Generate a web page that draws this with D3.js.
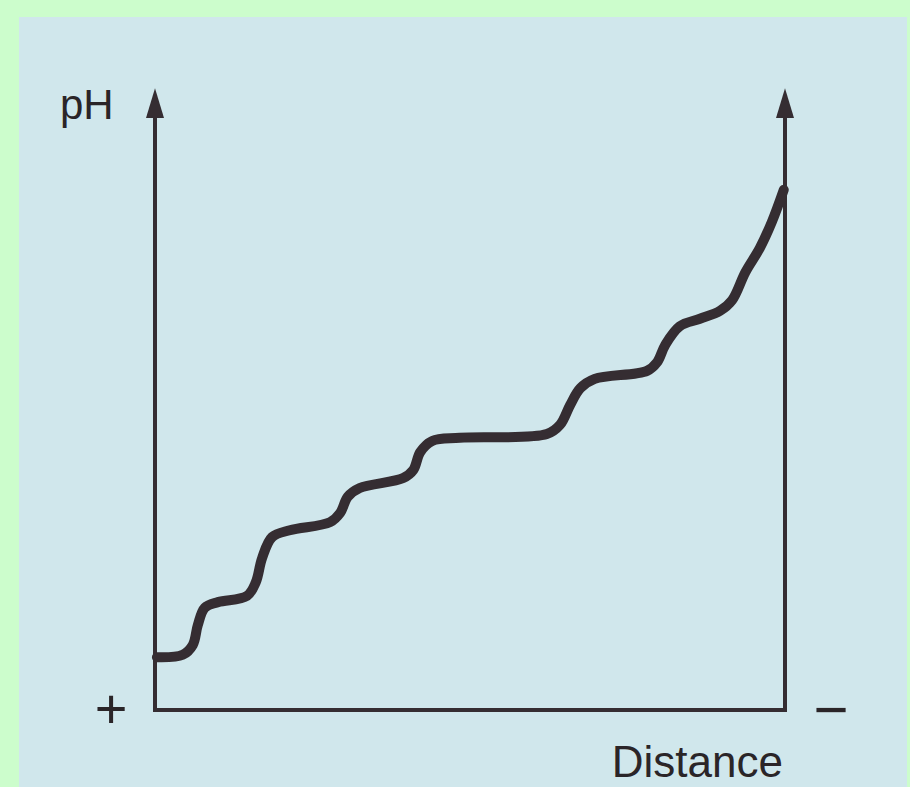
<!DOCTYPE html>
<html><head><meta charset="utf-8">
<script src="https://cdn.jsdelivr.net/npm/d3@7"></script>
<style>html,body{margin:0;padding:0;background:#ccfdcc;}svg{display:block;}</style>
</head><body>
<script>
// Data (arbitrary units: distance 0-100, pH 0-10)
const distance = [0.3,4.4,6.0,6.8,7.9,10.0,14.6,16.0,17.0,18.6,21.4,27.8,29.4,30.6,32.5,39.4,41.0,42.1,44.0,48.4,62.2,64.3,65.9,67.5,69.8,78.1,79.7,81.0,83.3,86.5,89.7,91.6,93.7,96.0,97.9,99.8];
const phValues = [0.85,0.89,1.05,1.37,1.65,1.74,1.84,2.06,2.45,2.79,2.90,3.03,3.18,3.44,3.58,3.74,3.87,4.16,4.34,4.39,4.45,4.60,4.92,5.19,5.34,5.47,5.61,5.89,6.19,6.31,6.44,6.61,7.06,7.45,7.87,8.39];
const yLabel = "pH";
const xLabel = "Distance";
const leftSign = "+";
const rightSign = "\u2212";

const W = 910, H = 787;
const svg = d3.select("body").append("svg").attr("width", W).attr("height", H);
svg.append("rect").attr("x",0).attr("y",0).attr("width",W).attr("height",H).attr("fill","#ccfdcc");
svg.append("rect").attr("x",19).attr("y",17).attr("width",888).attr("height",H-17).attr("fill","#d0e7ec");

const x = d3.scaleLinear().domain([0,100]).range([155,785]);
const y = d3.scaleLinear().domain([0,10]).range([710,90]);
const ink = "#352d32";
const font = "Liberation Sans, Arial, Helvetica, sans-serif";

// Axes (no ticks)
const gx = svg.append("g").attr("transform",`translate(0,${y(0)})`).call(d3.axisBottom(x).tickValues([]).tickSizeOuter(0));
const gy = svg.append("g").attr("transform",`translate(${x(0)},0)`).call(d3.axisLeft(y).tickValues([]).tickSizeOuter(0));
const gr = svg.append("g").attr("transform",`translate(${x(100)},0)`).call(d3.axisRight(y).tickValues([]).tickSizeOuter(0));
[gx,gy,gr].forEach(g=>g.select(".domain").attr("stroke",ink).attr("stroke-width",4).attr("stroke-linecap","square"));
gy.select(".domain").attr("d",`M0,${y(0)}V${y(9.6)}`);
gr.select(".domain").attr("d",`M0,${y(0)}V${y(9.6)}`);
gx.select(".domain").attr("d",`M${x(0)},0H${x(100)}`);

// Arrowheads
[x(0), x(100)].forEach(ax=>{
  svg.append("path").attr("d",`M${ax},${y(10.03)} L${ax-9},${y(9.55)} L${ax+9},${y(9.55)} Z`).attr("fill",ink);
});

// Curve
const pts = distance.map((d,i)=>[x(d), y(phValues[i])]);
svg.append("path").datum(pts)
  .attr("d", d3.line().curve(d3.curveCatmullRom.alpha(0.5)))
  .attr("fill","none").attr("stroke",ink).attr("stroke-width",10)
  .attr("stroke-linecap","round").attr("stroke-linejoin","round");

// Labels
svg.append("text").attr("x",60).attr("y",119).text(yLabel)
  .attr("font-family",font).attr("font-size",42).attr("fill","#2a2528");
svg.append("text").attr("x",783).attr("y",777).attr("text-anchor","end").text(xLabel)
  .attr("font-family",font).attr("font-size",44).attr("fill","#2a2528");
svg.append("text").attr("x",111).attr("y",728).attr("text-anchor","middle").text(leftSign)
  .attr("font-family",font).attr("font-size",56).attr("fill","#2a2528");
svg.append("text").attr("x",831).attr("y",730).attr("text-anchor","middle").text(rightSign)
  .attr("font-family",font).attr("font-size",60).attr("fill","#2a2528");
</script>
</body></html>
